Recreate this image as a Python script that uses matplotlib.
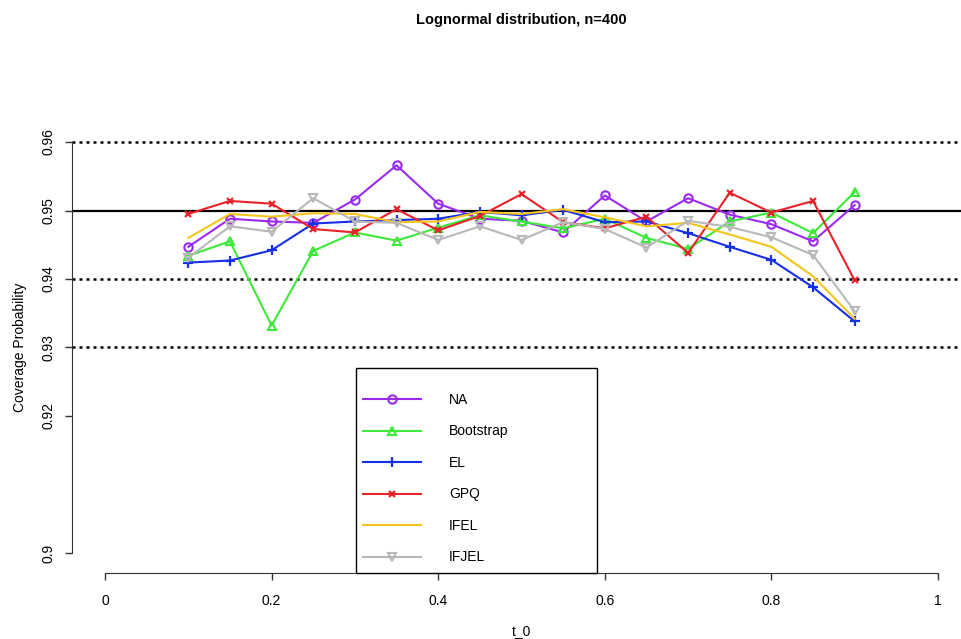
import numpy as np
import matplotlib
matplotlib.use("Agg")
import matplotlib.pyplot as plt
from matplotlib.patches import Rectangle

plt.rcParams['font.family'] = ['Liberation Sans', 'DejaVu Sans']

# значения t_0
t0 = [0.1, 0.15, 0.2, 0.25, 0.3, 0.35, 0.4, 0.45, 0.5, 0.55, 0.6, 0.65, 0.7, 0.75, 0.8, 0.85, 0.9]

# вероятности покрытия для каждого метода
na = [0.9447, 0.9488, 0.9484, 0.9482, 0.9516, 0.9566, 0.9510, 0.9488, 0.9485, 0.9468, 0.9522, 0.9484,
      0.9518, 0.9494, 0.9480, 0.9455, 0.9508]
boot = [0.9434, 0.9455, 0.9332, 0.9441, 0.9468, 0.9456, 0.9475, 0.9493, 0.9484, 0.9474, 0.9488, 0.9460,
        0.9444, 0.9484, 0.9497, 0.9467, 0.9527]
el = [0.9424, 0.9427, 0.9442, 0.9481, 0.9484, 0.9486, 0.9488, 0.9498, 0.9493, 0.9501, 0.9483, 0.9484,
      0.9467, 0.9447, 0.9428, 0.9388, 0.9338]
gpq = [0.9495, 0.9514, 0.9510, 0.9473, 0.9468, 0.9502, 0.9471, 0.9492, 0.9524, 0.9483, 0.9474, 0.9491,
       0.9438, 0.9526, 0.9497, 0.9514, 0.9398]
ifel = [0.9460, 0.9495, 0.9491, 0.9496, 0.9495, 0.9483, 0.9484, 0.9498, 0.9495, 0.9502, 0.9490, 0.9477,
        0.9482, 0.9465, 0.9447, 0.9404, 0.9342]
ifjel = [0.9431, 0.9477, 0.9469, 0.9518, 0.9484, 0.9482, 0.9457, 0.9477, 0.9457, 0.9483, 0.9473, 0.9446,
         0.9485, 0.9476, 0.9461, 0.9435, 0.9353]

yticks = [0.9, 0.92, 0.93, 0.94, 0.95, 0.96]
xticks = [0, 0.2, 0.4, 0.6, 0.8, 1]

W, H = 961, 639
fig = plt.figure(figsize=(W / 100, H / 100), dpi=100)

# область графика в пикселях (как в R: +4% по краям)
left_px, right_px = 71.7, 971.3
top_px, bot_px = 125.6, 569.4
ax = fig.add_axes([left_px / W, 1 - bot_px / H, (right_px - left_px) / W, (bot_px - top_px) / H])
ax.set_xlim(-0.04, 1.04)
ax.set_ylim(0.8976, 0.9624)

def fx(px):
    return (px - left_px) / (right_px - left_px)

def fy(py):
    return (bot_px - py) / (bot_px - top_px)

# горизонтальные линии
ax.axhline(0.95, color='black', lw=1.6, zorder=1)
for yv in [0.96, 0.94, 0.93]:
    ax.axhline(yv, color='black', lw=1.8, ls=(0, (1.2, 1.6)), zorder=1)

lw = 1.5
ax.plot(t0, na, color='#9A2BEE', lw=lw, marker='o', ms=6, mfc='none', mew=1.5, label='NA')
ax.plot(t0, boot, color='#3EE83A', lw=lw, marker='^', ms=6, mfc='none', mew=1.5, label='Bootstrap')
ax.plot(t0, el, color='#1530E6', lw=lw, marker='+', ms=7, mew=1.6, label='EL')
ax.plot(t0, gpq, color='#E8222A', lw=lw, marker='x', ms=5, mew=1.6, label='GPQ')
ax.plot(t0, ifel, color='#F5C518', lw=lw, label='IFEL')
ax.plot(t0, ifjel, color='#B8B8B8', lw=lw, marker='v', ms=6, mfc='none', mew=1.5, label='IFJEL')

# оси в стиле R
for s in ['top', 'right']:
    ax.spines[s].set_visible(False)
ax.spines['left'].set_bounds(0.9, 0.96)
ax.spines['bottom'].set_bounds(0, 1)
ax.spines['bottom'].set_position(('outward', 2.5))
ax.spines['left'].set_color('#333333')
ax.spines['bottom'].set_color('#333333')
ax.set_yticks(yticks)
ax.set_yticklabels([f'{v:g}' for v in yticks], rotation=90, va='center')
ax.set_xticks(xticks)
ax.set_xticklabels([f'{v:g}' for v in xticks])
ax.tick_params(axis='both', length=5, width=1, color='#333333', labelsize=10)
ax.tick_params(axis='x', pad=10)
ax.tick_params(axis='y', pad=7)
ax.set_ylabel('Coverage Probability', fontsize=10, labelpad=10)
ax.set_xlabel('t_0', fontsize=10, labelpad=12)

# легенда: рамка отдельно, содержимое без рамки
box = Rectangle((fx(356), fy(573)), fx(597) - fx(356), fy(368) - fy(573), transform=ax.transAxes,
                facecolor='white', edgecolor='black', lw=1.0, clip_on=False, zorder=5)
ax.add_patch(box)
leg = ax.legend(loc='upper left', bbox_to_anchor=(fx(356), fy(386)), fontsize=10, frameon=False,
                handlelength=4.2, handletextpad=2.0, labelspacing=1.26, borderpad=0.5,
                borderaxespad=0)
leg.set_zorder(6)

fig.text(521.5 / W, 1 - 20 / H, 'Lognormal distribution, n=400', ha='center', va='center',
         fontsize=10.5, fontweight='bold')

fig.savefig('out.png', dpi=100)
